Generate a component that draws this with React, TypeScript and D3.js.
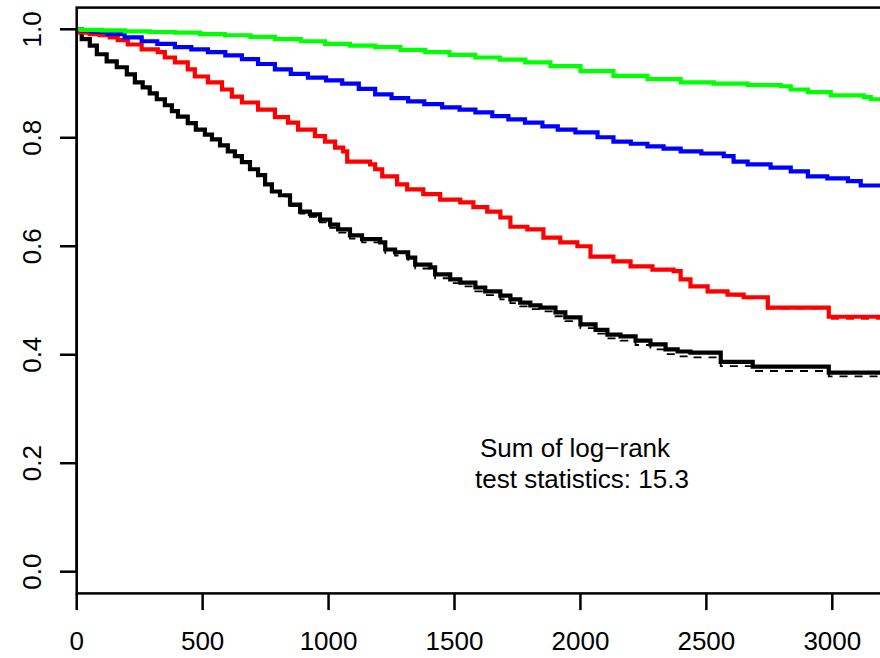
import React from "react";
import * as d3 from "d3";

// ---------- data ----------
const blackTimes = [0, 20, 52, 80, 119, 159, 199, 231, 262, 290, 318, 350, 378, 402, 441, 473, 509, 537, 569, 600, 628, 656, 688, 720, 748, 775, 807, 847, 887, 926, 966, 1006, 1038, 1085, 1133, 1205, 1225, 1264, 1316, 1344, 1404, 1423, 1483, 1523, 1583, 1622, 1682, 1722, 1761, 1801, 1841, 1901, 1940, 2000, 2060, 2107, 2159, 2219, 2278, 2338, 2386, 2437, 2557, 2684, 2986];
const blackSurv = [1.0, 0.982, 0.970, 0.954, 0.941, 0.930, 0.917, 0.902, 0.893, 0.882, 0.871, 0.860, 0.849, 0.839, 0.827, 0.815, 0.806, 0.797, 0.786, 0.775, 0.766, 0.755, 0.742, 0.731, 0.714, 0.701, 0.694, 0.677, 0.664, 0.659, 0.649, 0.640, 0.631, 0.620, 0.613, 0.607, 0.594, 0.589, 0.579, 0.566, 0.561, 0.548, 0.539, 0.533, 0.524, 0.517, 0.509, 0.502, 0.496, 0.491, 0.487, 0.478, 0.469, 0.456, 0.446, 0.437, 0.434, 0.426, 0.419, 0.410, 0.406, 0.404, 0.387, 0.378, 0.367];
const blackDashedSurv = [1.0, 0.982, 0.970, 0.954, 0.941, 0.930, 0.917, 0.902, 0.893, 0.882, 0.871, 0.860, 0.849, 0.839, 0.827, 0.815, 0.806, 0.797, 0.786, 0.775, 0.766, 0.755, 0.742, 0.731, 0.714, 0.701, 0.692, 0.674, 0.660, 0.654, 0.644, 0.634, 0.625, 0.614, 0.607, 0.600, 0.588, 0.583, 0.572, 0.559, 0.554, 0.541, 0.532, 0.526, 0.517, 0.510, 0.502, 0.495, 0.489, 0.484, 0.480, 0.471, 0.462, 0.449, 0.439, 0.430, 0.426, 0.418, 0.410, 0.401, 0.397, 0.395, 0.379, 0.370, 0.360];

const redTimes = [0, 12, 52, 91, 131, 163, 203, 258, 322, 350, 390, 441, 469, 521, 577, 616, 656, 720, 787, 839, 879, 946, 986, 1026, 1058, 1074, 1165, 1185, 1213, 1272, 1312, 1376, 1443, 1523, 1575, 1630, 1682, 1722, 1789, 1853, 1920, 1988, 2040, 2131, 2199, 2286, 2370, 2398, 2437, 2505, 2584, 2648, 2744, 2986];
const redSurv = [1.0, 0.994, 0.991, 0.989, 0.985, 0.980, 0.972, 0.963, 0.958, 0.948, 0.939, 0.926, 0.913, 0.902, 0.889, 0.876, 0.865, 0.852, 0.838, 0.828, 0.815, 0.803, 0.793, 0.782, 0.775, 0.756, 0.751, 0.742, 0.729, 0.714, 0.705, 0.696, 0.686, 0.681, 0.672, 0.664, 0.653, 0.636, 0.631, 0.616, 0.607, 0.600, 0.581, 0.572, 0.563, 0.557, 0.554, 0.539, 0.526, 0.517, 0.511, 0.506, 0.487, 0.470];
const redDashedTimes = [2505, 2584, 2648, 2744, 2986];
const redDashedSurv = [0.515, 0.509, 0.504, 0.485, 0.466];

const blueTimes = [0, 20, 60, 123, 190, 258, 320, 390, 455, 521, 590, 656, 720, 787, 850, 918, 990, 1054, 1120, 1185, 1250, 1316, 1380, 1451, 1520, 1583, 1650, 1714, 1780, 1849, 1910, 1980, 2068, 2131, 2200, 2266, 2330, 2398, 2480, 2569, 2608, 2664, 2755, 2835, 2903, 2980, 3062, 3113];
const blueSurv = [1.0, 0.998, 0.995, 0.991, 0.985, 0.978, 0.973, 0.967, 0.963, 0.958, 0.952, 0.945, 0.936, 0.926, 0.918, 0.911, 0.906, 0.900, 0.890, 0.880, 0.873, 0.867, 0.862, 0.856, 0.852, 0.847, 0.840, 0.834, 0.828, 0.821, 0.815, 0.810, 0.801, 0.793, 0.789, 0.784, 0.780, 0.775, 0.771, 0.766, 0.756, 0.751, 0.745, 0.738, 0.729, 0.725, 0.720, 0.712];

const greenTimes = [0, 20, 100, 191, 290, 390, 490, 588, 690, 787, 890, 986, 1085, 1185, 1285, 1384, 1480, 1583, 1680, 1781, 1881, 2000, 2131, 2266, 2398, 2529, 2664, 2795, 2835, 2903, 2994, 3125, 3153];
const greenSurv = [1.0, 0.999, 0.998, 0.996, 0.995, 0.994, 0.991, 0.989, 0.986, 0.982, 0.978, 0.973, 0.970, 0.967, 0.962, 0.958, 0.953, 0.948, 0.944, 0.939, 0.932, 0.923, 0.914, 0.908, 0.902, 0.900, 0.897, 0.895, 0.889, 0.884, 0.878, 0.875, 0.871];

const followUpEnd = 3300;
const xTicks = [0, 500, 1000, 1500, 2000, 2500, 3000];
const yTicks = [0, 0.2, 0.4, 0.6, 0.8, 1.0];
const annotationLines = ["Sum of log\u2212rank", "test statistics: 15.3"];

// ---------- layout ----------
const W = 880;
const H = 658;
const FONT = "'Liberation Sans', Arial, Helvetica, sans-serif";

const x = d3.scaleLinear().domain([0, 3000]).range([76.7, 832.3]);
const y = d3.scaleLinear().domain([0, 1]).range([571.7, 29.3]);

const boxLeft = x(0);
const boxRight = x(followUpEnd + 100);
const boxTop = y(1.04);
const boxBottom = y(-0.04);

function toPoints(times: number[], surv: number[]): [number, number][] {
  const pts: [number, number][] = times.map((t, i) => [t, surv[i]]);
  pts.push([followUpEnd, surv[surv.length - 1]]);
  return pts;
}

const stepLine = d3
  .line<[number, number]>()
  .x((d) => x(d[0]))
  .y((d) => y(d[1]))
  .curve(d3.curveStepAfter);

const series = [
  { pts: toPoints(blackTimes, blackDashedSurv), color: "#000000", width: 1.8, dash: "8,7" },
  { pts: toPoints(redDashedTimes, redDashedSurv), color: "#FF0000", width: 1.8, dash: "8,7" },
  { pts: toPoints(blackTimes, blackSurv), color: "#000000", width: 4.2, dash: undefined },
  { pts: toPoints(redTimes, redSurv), color: "#FF0000", width: 4.2, dash: undefined },
  { pts: toPoints(blueTimes, blueSurv), color: "#0000FF", width: 4.2, dash: undefined },
  { pts: toPoints(greenTimes, greenSurv), color: "#00FF00", width: 4.2, dash: undefined },
];

export default function App() {
  const tickLen = 16.7;
  return (
    <svg
      width={W}
      height={H}
      viewBox={`0 0 ${W} ${H}`}
      style={{ position: "absolute", left: 0, top: 0, background: "#fff" }}
      fontFamily={FONT}
    >
      <rect x={0} y={0} width={W} height={H} fill="#fff" />
      <defs>
        <clipPath id="plotclip">
          <rect x={boxLeft} y={boxTop} width={boxRight - boxLeft} height={boxBottom - boxTop} />
        </clipPath>
      </defs>
      <g clipPath="url(#plotclip)">
        {series.map((s, i) => (
          <path
            key={i}
            d={stepLine(s.pts) || ""}
            fill="none"
            stroke={s.color}
            strokeWidth={s.width}
            strokeDasharray={s.dash}
            strokeLinejoin="miter"
            strokeLinecap="butt"
          />
        ))}
      </g>
      {/* box */}
      <rect
        x={boxLeft}
        y={boxTop}
        width={boxRight - boxLeft}
        height={boxBottom - boxTop}
        fill="none"
        stroke="#000"
        strokeWidth={2.5}
      />
      {/* x axis */}
      {xTicks.map((t) => (
        <g key={t}>
          <line x1={x(t)} x2={x(t)} y1={boxBottom} y2={boxBottom + tickLen} stroke="#000" strokeWidth={2.5} />
          <text x={x(t)} y={650} textAnchor="middle" fontSize={26} fill="#000">
            {String(t)}
          </text>
        </g>
      ))}
      {/* y axis */}
      <line x1={boxLeft} x2={boxLeft} y1={y(0)} y2={y(1)} stroke="#000" strokeWidth={2.5} />
      {yTicks.map((t) => (
        <g key={t}>
          <line x1={boxLeft - tickLen} x2={boxLeft} y1={y(t)} y2={y(t)} stroke="#000" strokeWidth={2.5} />
          <text
            x={41}
            y={y(t)}
            transform={`rotate(-90, 41, ${y(t)})`}
            textAnchor="middle"
            fontSize={26}
            fill="#000"
          >
            {t.toFixed(1)}
          </text>
        </g>
      ))}
      {/* annotation */}
      <text x={480} y={457} fontSize={26} fill="#000">
        {annotationLines[0]}
      </text>
      <text x={475} y={488} fontSize={26} fill="#000">
        {annotationLines[1]}
      </text>
    </svg>
  );
}
